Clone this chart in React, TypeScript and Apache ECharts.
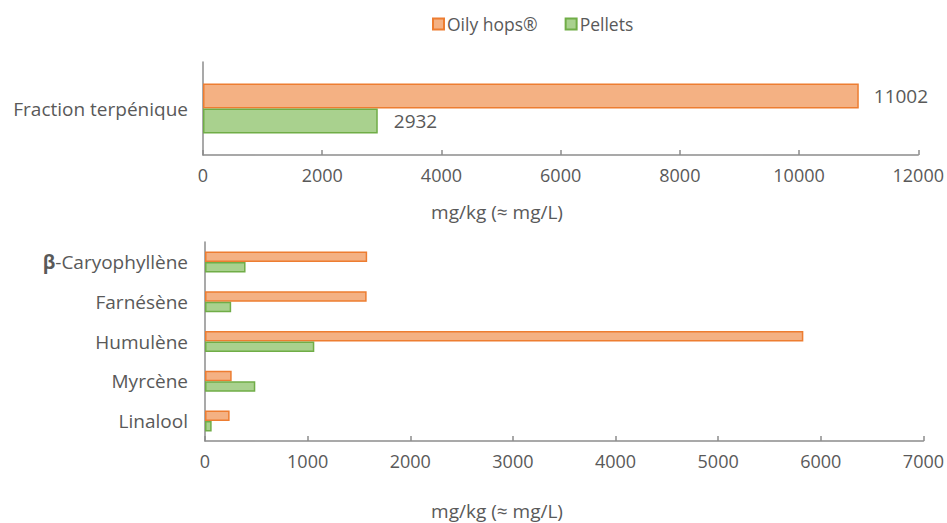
import React, { useEffect, useRef } from "react";
import * as echarts from "echarts";

const seriesNames = ["Oily hops®", "Pellets"];
const topCategories = ["Fraction terpénique"];
const topOily = [11002];
const topPellets = [2932];
const bottomCategories = ["β-Caryophyllène", "Farnésène", "Humulène", "Myrcène", "Linalool"];
const bottomOily = [1580, 1575, 5830, 260, 240];
const bottomPellets = [395, 255, 1065, 490, 65];
const axisName = "mg/kg (≈ mg/L)";

const FONT = "Open Sans";
const FS = 18;
const FL = 19;
const TXT = "#595959";
const AX = "#8c8c8c";
const ORANGE = { color: "#F4B183", borderColor: "#ED7D31", borderWidth: 1.5 };
const GREEN = { color: "#A9D18E", borderColor: "#70AD47", borderWidth: 1.5 };

export default function App() {
  const ref = useRef<HTMLDivElement>(null);
  useEffect(() => {
    const chart = echarts.init(ref.current!, null, { renderer: "svg" });
    const xAxisCommon = {
      type: "value",
      axisLine: { show: true, lineStyle: { color: AX, width: 1.5 } },
      axisTick: { show: true, inside: true, length: 5, lineStyle: { color: AX, width: 1.5 } },
      splitLine: { show: false },
      axisLabel: {
        color: TXT,
        fontFamily: FONT,
        fontSize: FS,
        margin: 11,
        formatter: (v: number) => String(v),
      },
    };
    const yAxisCommon = {
      type: "category",
      inverse: true,
      axisLine: { show: true, lineStyle: { color: AX, width: 1.5 } },
      axisTick: { show: false },
      splitLine: { show: false },
    };
    chart.setOption({
      animation: false,
      textStyle: { fontFamily: FONT, color: TXT },
      legend: {
        top: 10,
        left: 427,
        icon: "rect",
        itemWidth: 11,
        itemHeight: 11,
        itemGap: 27,
        data: seriesNames,
        textStyle: { color: TXT, fontFamily: FONT, fontSize: 17.5, padding: [0, 0, 0, -2] },
      },
      grid: [
        { left: 203, top: 62, width: 717, height: 93 },
        { left: 205, top: 242, width: 721, height: 199 },
      ],
      xAxis: [
        { ...xAxisCommon, gridIndex: 0, min: 0, max: 12000, interval: 2000 },
        { ...xAxisCommon, gridIndex: 1, min: 0, max: 7000, interval: 1000 },
      ],
      yAxis: [
        {
          ...yAxisCommon,
          gridIndex: 0,
          data: topCategories,
          axisLabel: { color: TXT, fontFamily: FONT, fontSize: FL, margin: 15 },
        },
        {
          ...yAxisCommon,
          gridIndex: 1,
          data: bottomCategories,
          axisLabel: {
            color: TXT,
            fontFamily: FONT,
            fontSize: FL,
            margin: 17,
            formatter: (v: string) =>
              v.startsWith("β") ? "{b|β}" + v.slice(1) : v,
            rich: {
              b: { fontWeight: "bold", color: TXT, fontFamily: FONT, fontSize: FL },
            },
          },
        },
      ],
      series: [
        {
          name: seriesNames[0],
          type: "bar",
          xAxisIndex: 0,
          yAxisIndex: 0,
          data: topOily,
          barWidth: 25,
          barGap: "0%",
          itemStyle: ORANGE,
          label: { show: true, position: "right", distance: 15, color: TXT, fontFamily: FONT, fontSize: FL },
        },
        {
          name: seriesNames[1],
          type: "bar",
          xAxisIndex: 0,
          yAxisIndex: 0,
          data: topPellets,
          barWidth: 25,
          barGap: "0%",
          itemStyle: GREEN,
          label: { show: true, position: "right", distance: 16, color: TXT, fontFamily: FONT, fontSize: FL },
        },
        {
          name: seriesNames[0],
          type: "bar",
          xAxisIndex: 1,
          yAxisIndex: 1,
          data: bottomOily,
          barWidth: 10.5,
          barGap: "0%",
          itemStyle: ORANGE,
        },
        {
          name: seriesNames[1],
          type: "bar",
          xAxisIndex: 1,
          yAxisIndex: 1,
          data: bottomPellets,
          barWidth: 10.5,
          barGap: "0%",
          itemStyle: GREEN,
        },
      ],
      graphic: [
        {
          type: "text",
          x: 497,
          y: 212,
          style: { text: axisName, fill: TXT, font: `${FL}px "${FONT}"`, textAlign: "center", textVerticalAlign: "middle" },
        },
        {
          type: "text",
          x: 497,
          y: 511,
          style: { text: axisName, fill: TXT, font: `${FL}px "${FONT}"`, textAlign: "center", textVerticalAlign: "middle" },
        },
      ],
    });
    return () => chart.dispose();
  }, []);
  return <div ref={ref} style={{ width: 947, height: 523, position: "absolute", left: 0, top: 0 }} />;
}
